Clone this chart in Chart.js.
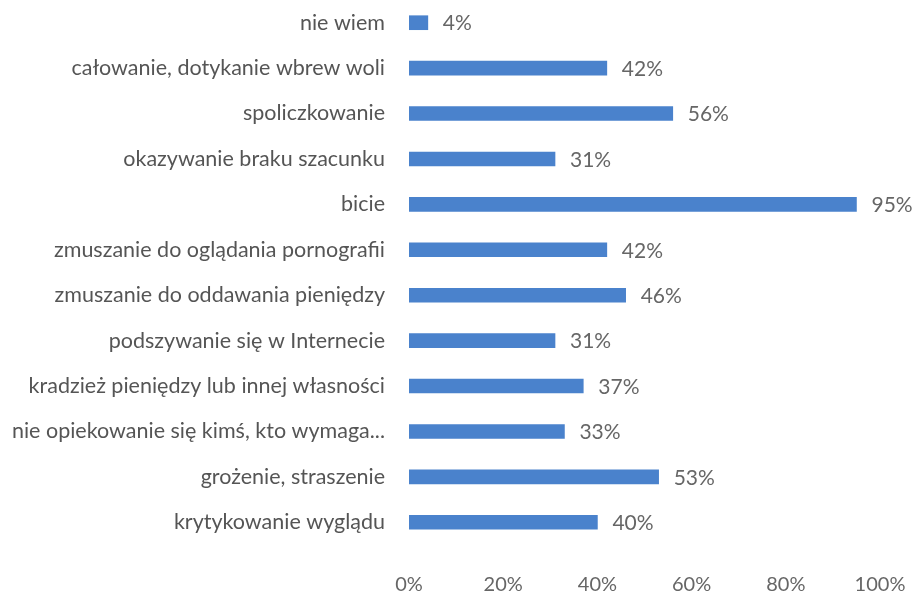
<!DOCTYPE html>
<html>
<head>
<meta charset="utf-8">
<script src="https://cdn.jsdelivr.net/npm/chart.js@4/dist/chart.umd.min.js"></script>
<style>
  html, body { margin: 0; padding: 0; background: #fff; }
  #wrap { width: 920px; height: 595px; }
</style>
</head>
<body>
<div id="wrap"><canvas id="barChart" width="920" height="595"></canvas></div>
<script>
const categories = [
  'nie wiem',
  'całowanie, dotykanie wbrew woli',
  'spoliczkowanie',
  'okazywanie braku szacunku',
  'bicie',
  'zmuszanie do oglądania pornografii',
  'zmuszanie do oddawania pieniędzy',
  'podszywanie się w Internecie',
  'kradzież pieniędzy lub innej własności',
  'nie opiekowanie się kimś, kto wymaga...',
  'grożenie, straszenie',
  'krytykowanie wyglądu'
];
const values = [4, 42, 56, 31, 95, 42, 46, 31, 37, 33, 53, 40];
const tickValues = [0, 20, 40, 60, 80, 100];

const FONT = 'Lato, "Open Sans", sans-serif';

// draws "42%" after the end of each bar
const valueLabels = {
  id: 'valueLabels',
  afterDatasetsDraw(chart) {
    const ctx = chart.ctx;
    const meta = chart.getDatasetMeta(0);
    ctx.save();
    ctx.font = '21px ' + FONT;
    ctx.fillStyle = '#666';
    ctx.textAlign = 'left';
    ctx.textBaseline = 'middle';
    meta.data.forEach((bar, i) => {
      ctx.fillText(values[i] + '%', bar.x + 15, bar.y + 1);
    });
    ctx.restore();
  }
};

new Chart(document.getElementById('barChart'), {
  type: 'bar',
  data: {
    labels: categories,
    datasets: [{
      data: values,
      backgroundColor: '#4a82cc',
      borderWidth: 0,
      barThickness: 14
    }]
  },
  options: {
    indexAxis: 'y',
    responsive: false,
    animation: false,
    layout: { padding: { top: 0, right: 40, bottom: 0, left: 0 } },
    plugins: {
      legend: { display: false },
      tooltip: { enabled: false }
    },
    scales: {
      x: {
        min: 0,
        max: 100,
        afterBuildTicks: (s) => { s.ticks = tickValues.map(v => ({ value: v })); },
        afterFit: (s) => {
          s.height = 50;
          s.paddingLeft = 0;
          s.paddingRight = 0;
        },
        grid: { display: false },
        border: { display: false },
        ticks: {
          padding: 20,
          color: '#666',
          font: { family: FONT, size: 20 },
          callback: (v) => v + '%'
        }
      },
      y: {
        afterFit: (s) => {
          s.width = 409;
          s.paddingTop = 0;
          s.paddingBottom = 0;
        },
        grid: { display: false },
        border: { display: false },
        ticks: {
          padding: 16,
          color: '#555',
          font: { family: FONT, size: 21.5 }
        }
      }
    }
  },
  plugins: [valueLabels]
});
</script>
</body>
</html>
